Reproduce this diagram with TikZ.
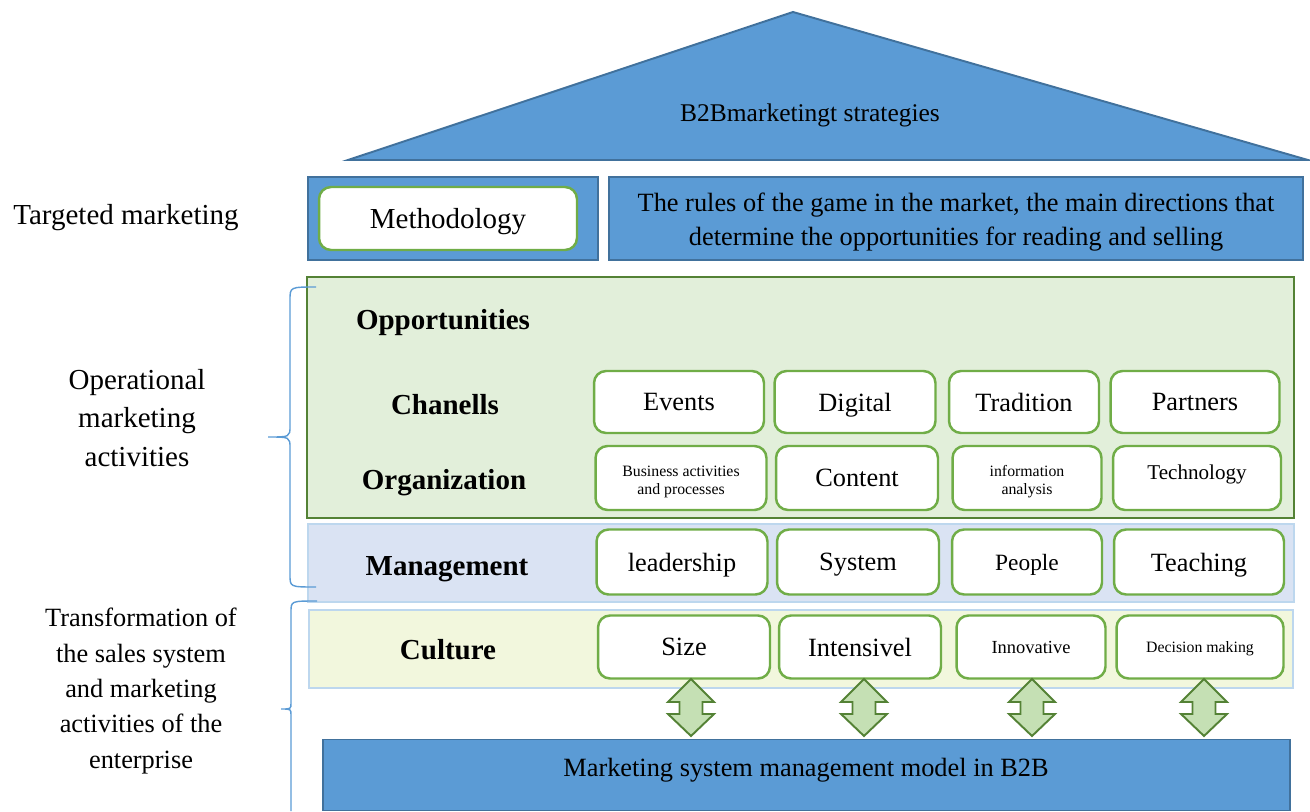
\documentclass[tikz,border=0pt]{standalone}
\usepackage{fontspec}
\setmainfont{Liberation Serif}

\definecolor{roofblue}{HTML}{5B9BD5}
\definecolor{roofedge}{HTML}{41719C}
\definecolor{leafgreen}{HTML}{70AD47}
\definecolor{darkgreen}{HTML}{548235}
\definecolor{palegreen}{HTML}{E2EFDA}
\definecolor{arrowgreen}{HTML}{C5E0B4}
\definecolor{paleblue}{HTML}{DAE3F3}
\definecolor{lineblue}{HTML}{BDD7EE}
\definecolor{paleyellow}{HTML}{F2F7DD}

\tikzset{
	fs/.style={font=\fontsize{#1}{#1}\selectfont},
	oneline/.style={text depth=0pt},
	bluebox/.style={draw=roofedge, line width=1.1pt, fill=roofblue},
	band/.style={draw=lineblue, line width=1.1pt},
	tile/.style={draw=leafgreen, line width=1.4pt, fill=white, rounded corners=0.24cm, align=center, fs=15, oneline},
	small/.style={font=\fontsize{9}{10.2}\selectfont, text height=19pt},
	rowlabel/.style={font=\fontsize{16.5}{20}\selectfont\bfseries, oneline},
	sidelabel/.style={align=center},
	updown/.style={draw=darkgreen, line width=1.1pt, fill=arrowgreen},
	brace/.style={draw=roofblue, line width=0.8pt}
}

\begin{document}
\begin{tikzpicture}[x=0.02cm,y=-0.02cm]
	\useasboundingbox (0,0) rectangle (1310,811);

	% roof
	\draw[bluebox] (348,160) -- (793,12) -- (1308,160) -- cycle;
	\node[fs=14.5, oneline] (roof) at (810,113) {B2Bmarketingt strategies};

	% targeted marketing row
	\node[bluebox, minimum width=5.8cm, minimum height=1.66cm] (tgt) at (453,218.5) {};
	\node[bluebox, minimum width=13.88cm, minimum height=1.66cm] (rules) at (956,218.5) {};
	\node[align=center, font=\fontsize{15}{19.8}\selectfont] (rulestxt) at (956,222)
		{The rules of the game in the market, the main directions that\\determine the opportunities for reading and selling};
	\node[tile, fs=16.5, minimum width=5.16cm, minimum height=1.26cm] (meth) at (448,218.5) {Methodology};

	% bands
	\node[draw=darkgreen, line width=1.4pt, fill=palegreen, minimum width=19.74cm, minimum height=4.82cm] (ops) at (800.5,397.5) {};
	\node[band, fill=paleblue, minimum width=19.72cm, minimum height=1.56cm] (mgmt) at (801,563) {};
	\node[band, fill=paleyellow, minimum width=19.68cm, minimum height=1.56cm] (cult) at (801,649) {};

	\node[rowlabel] (opp) at (443,319) {Opportunities};
	\node[rowlabel] (chan) at (445,404) {Chanells};
	\node[rowlabel] (org) at (444,479) {Organization};
	\node[rowlabel] (man) at (447,566) {Management};
	\node[rowlabel] (cul) at (448,649) {Culture};

	% channels
	\node[tile, minimum width=3.4cm, minimum height=1.24cm] (events) at (679,402) {Events};
	\node[tile, minimum width=3.22cm, minimum height=1.24cm] (digital) at (855,402) {Digital};
	\node[tile, minimum width=3.0cm, minimum height=1.24cm] (trad) at (1024,402) {Tradition};
	\node[tile, minimum width=3.38cm, minimum height=1.24cm] (partn) at (1195,402) {Partners};

	% organization
	\node[tile, small, minimum width=3.42cm, minimum height=1.28cm] (busi) at (681,478) {Business activities\\and processes};
	\node[tile, minimum width=3.24cm, minimum height=1.28cm] (content) at (857,478) {Content};
	\node[tile, small, minimum width=2.98cm, minimum height=1.28cm] (info) at (1027,478) {information\\analysis};
	\node[tile, fs=12, text depth=7pt, minimum width=3.36cm, minimum height=1.28cm] (tech) at (1197,478) {Technology};

	% management
	\node[tile, minimum width=3.42cm, minimum height=1.3cm] (lead) at (682,562) {leadership};
	\node[tile, minimum width=3.24cm, minimum height=1.3cm] (system) at (858,562) {System};
	\node[tile, fs=13.3, minimum width=3.0cm, minimum height=1.3cm] (people) at (1027,562) {People};
	\node[tile, minimum width=3.4cm, minimum height=1.3cm] (teach) at (1199,562) {Teaching};

	% culture
	\node[tile, minimum width=3.44cm, minimum height=1.26cm] (size) at (684,647) {Size};
	\node[tile, minimum width=3.24cm, minimum height=1.26cm] (intens) at (860,647) {Intensivel};
	\node[tile, fs=10.5, minimum width=2.98cm, minimum height=1.26cm] (innov) at (1031,647) {Innovative};
	\node[tile, fs=9, minimum width=3.34cm, minimum height=1.26cm] (decis) at (1200,647) {Decision making};

	% two-way arrows down to the model
	\foreach \x in {691,864,1032,1204}
		\draw[updown] (\x,679) -- (\x+23,702) -- (\x+11.5,702) -- (\x+11.5,714)
			-- (\x+23,714) -- (\x,736) -- (\x-23,714) -- (\x-11.5,714)
			-- (\x-11.5,702) -- (\x-23,702) -- cycle;

	\node[bluebox, minimum width=19.34cm, minimum height=1.42cm] (model) at (806.5,775) {};
	\node[fs=15, oneline] (modeltxt) at (806,767) {Marketing system management model in B2B};

	% left side
	\node[fs=16.5, oneline] (targeted) at (126,214) {Targeted marketing};
	\node[sidelabel, font=\fontsize{16.5}{21.8}\selectfont] (operat) at (137,418) {Operational\\marketing\\activities};
	\node[sidelabel, font=\fontsize{15}{20.1}\selectfont] (transf) at (141,691) {Transformation of\\the sales system\\and marketing\\activities of the\\enterprise};

	\draw[brace] (316,287) .. controls (290,287) .. (290,300) -- (290,426)
		.. controls (290,437) .. (268,437) .. controls (290,437) .. (290,448)
		-- (290,575) .. controls (290,587) .. (316,587);
	\draw[brace] (317,601) .. controls (291,601) .. (291,612) -- (291,703)
		.. controls (291,709) .. (281,709) .. controls (291,709) .. (291,715)
		-- (291,811);
\end{tikzpicture}
\end{document}
